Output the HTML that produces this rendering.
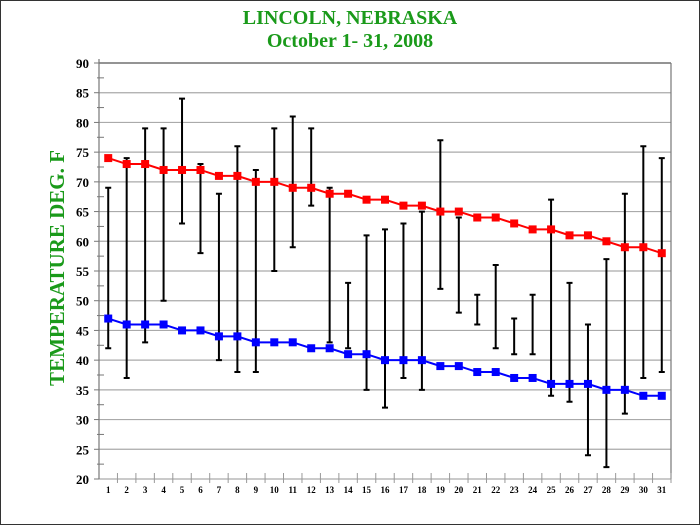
<!DOCTYPE html>
<html><head><meta charset="utf-8"><style>
body{margin:0;background:#fff}
svg text{font-family:"Liberation Serif",serif;font-weight:bold}
</style></head><body>
<svg id="chart" width="700" height="525" viewBox="0 0 700 525" xmlns="http://www.w3.org/2000/svg">
<rect x="0.5" y="0.5" width="699" height="524" fill="#fff" stroke="#333"/>
<text x="350" y="24" text-anchor="middle" font-size="20" fill="#1a9a1a">LINCOLN, NEBRASKA</text>
<text x="350" y="47" text-anchor="middle" font-size="20" fill="#1a9a1a">October 1- 31, 2008</text>
<text transform="translate(64,268) rotate(-90)" text-anchor="middle" font-size="21" fill="#1a9a1a">TEMPERATURE DEG. F</text>
<g id="grid"></g><g id="bars"></g><g id="lines"></g><g id="axes"></g>
</svg>
<script>
const days=[1,2,3,4,5,6,7,8,9,10,11,12,13,14,15,16,17,18,19,20,21,22,23,24,25,26,27,28,29,30,31];
const highObs=[69,74,79,79,84,73,68,76,72,79,81,79,69,53,61,62,63,65,77,64,51,56,47,51,67,53,46,57,68,76,74];
const lowObs=[42,37,43,50,63,58,40,38,38,55,59,66,43,42,35,32,37,35,52,48,46,42,41,41,34,33,24,22,31,37,38];
const normalHigh=[74,73,73,72,72,72,71,71,70,70,69,69,68,68,67,67,66,66,65,65,64,64,63,62,62,61,61,60,59,59,58];
const normalLow=[47,46,46,46,45,45,44,44,43,43,43,42,42,41,41,40,40,40,39,39,38,38,37,37,36,36,36,35,35,34,34];
const yTicks=[20,25,30,35,40,45,50,55,60,65,70,75,80,85,90];
const NS="http://www.w3.org/2000/svg";
const L=99,R=671,T=63,B=479,yMin=20,yMax=90;
const step=(R-L)/days.length;
function x(i){return L+step*(i+0.5);}
function y(v){return B-(v-yMin)/(yMax-yMin)*(B-T);}
function mk(tag,attrs,parent){const e=document.createElementNS(NS,tag);for(const k in attrs)e.setAttribute(k,attrs[k]);document.getElementById(parent).appendChild(e);return e;}
yTicks.forEach((t,i)=>{
 const g=mk('line',{x1:L,x2:R,y1:y(t),y2:y(t),stroke:i==yTicks.length-1?'#555':'#aaa','stroke-width':1.2},'grid');
 
 
 const tk=mk('line',{x1:L-5,x2:L,y1:y(t),y2:y(t),stroke:'#777'},'axes');
 
 
 const lb=mk('text',{x:L-10,y:y(t)+5,'text-anchor':'end','font-size':13,fill:'#000'},'axes');
 lb.textContent=t;
 
 
 if(i<yTicks.length-1){const m=mk('line',{x1:L-2,x2:L+5,y1:y(t+2.5),y2:y(t+2.5),stroke:'#777'},'axes');
 
 }
});
const ax=mk('line',{x1:L,x2:L,y1:T-4,y2:B,stroke:'#777','stroke-width':1.2},'axes');


const ax2=mk('line',{x1:R,x2:R,y1:T,y2:B,stroke:'#777','stroke-width':1.2},'axes');


days.forEach((d,i)=>{
 const tk=mk('line',{x1:L+step*(i+1),x2:L+step*(i+1),y1:B-6,y2:B+4,stroke:'#999'},'axes');
 
 
 const lb=mk('text',{x:x(i),y:B+14,'text-anchor':'middle','font-size':9,fill:'#000'},'axes');
 lb.textContent=d;
 
 
 const b=mk('path',{d:`M${x(i)-3},${y(highObs[i])}H${x(i)+3}M${x(i)},${y(highObs[i])}V${y(lowObs[i])}M${x(i)-3},${y(lowObs[i])}H${x(i)+3}`,stroke:'#000','stroke-width':2,fill:'none'},'bars');
 
 
});
function series(vals,color,name){
 const p=mk('polyline',{points:vals.map((v,i)=>x(i)+','+y(v)).join(' '),fill:'none',stroke:color,'stroke-width':2},'lines');
 
 
 vals.forEach((v,i)=>{const r=mk('rect',{x:x(i)-4,y:y(v)-4,width:8,height:8,fill:color},'lines');
 
 });
}
series(normalHigh,'#f00','normal-high');
series(normalLow,'#00f','normal-low');
</script>
</body></html>
